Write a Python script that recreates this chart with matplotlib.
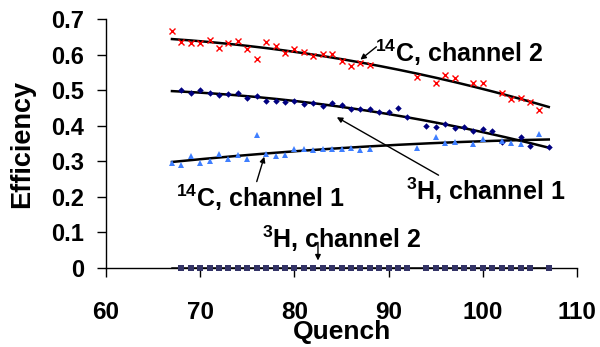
import matplotlib.pyplot as plt
import numpy as np

plt.rcParams['font.family'] = ['Liberation Sans', 'DejaVu Sans']
plt.rcParams['font.weight'] = 'bold'
plt.rcParams['mathtext.fontset'] = 'custom'
plt.rcParams['mathtext.rm'] = 'Liberation Sans:bold'
plt.rcParams['mathtext.default'] = 'rm'

# 14C, channel 2 (red crosses)
quench_c14_ch2 = [67, 68, 69, 70, 71, 72, 73, 74, 75, 76, 77, 78, 79, 80, 81, 82, 83, 84, 85, 86, 87, 88,
                  93, 95, 96, 97, 99, 100, 102, 103, 104, 105, 106]
eff_c14_ch2 = [0.667, 0.636, 0.634, 0.632, 0.640, 0.619, 0.634, 0.639, 0.617, 0.588, 0.636, 0.623,
               0.604, 0.617, 0.608, 0.597, 0.602, 0.602, 0.583, 0.569, 0.577, 0.572,
               0.537, 0.520, 0.543, 0.534, 0.520, 0.520, 0.491, 0.476, 0.479, 0.467, 0.444]

# 3H, channel 1 (navy diamonds)
quench_h3_ch1 = [68, 69, 70, 71, 72, 73, 74, 75, 76, 77, 78, 79, 80, 81, 82, 83, 84, 85, 86, 87, 88, 89, 90, 91, 92,
                 94, 95, 96, 97, 98, 99, 100, 101, 102, 104, 105, 107]
eff_h3_ch1 = [0.500, 0.491, 0.500, 0.491, 0.487, 0.489, 0.493, 0.477, 0.484, 0.469, 0.471, 0.466, 0.469,
              0.462, 0.463, 0.455, 0.465, 0.459, 0.447, 0.446, 0.447, 0.439, 0.438, 0.449, 0.424,
              0.399, 0.396, 0.406, 0.393, 0.396, 0.385, 0.391, 0.385, 0.355, 0.368, 0.344, 0.340]

# 14C, channel 1 (blue triangles)
quench_c14_ch1 = [67, 68, 69, 70, 71, 72, 73, 74, 75, 76, 77, 78, 79, 80, 81, 82, 83, 84, 85, 86, 87, 88,
                  93, 95, 96, 97, 99, 100, 102, 103, 104, 106]
eff_c14_ch1 = [0.294, 0.290, 0.315, 0.296, 0.301, 0.320, 0.306, 0.318, 0.307, 0.373, 0.320, 0.316,
               0.317, 0.334, 0.334, 0.333, 0.335, 0.335, 0.334, 0.337, 0.332, 0.335,
               0.337, 0.369, 0.352, 0.354, 0.348, 0.363, 0.358, 0.352, 0.349, 0.377]

# 3H, channel 2 (squares on the baseline)
quench_h3_ch2 = [68, 69, 70, 71, 72, 73, 74, 75, 76, 77, 78, 79, 80, 81, 82, 83, 84, 85, 86, 87, 88, 89, 90, 91, 92,
                 94, 95, 96, 97, 98, 99, 100, 101, 102, 103, 104, 105, 107]
eff_h3_ch2 = [0.0] * len(quench_h3_ch2)

x_ticks = [60, 70, 80, 90, 100, 110]
y_ticks = [0, 0.1, 0.2, 0.3, 0.4, 0.5, 0.6, 0.7]
y_tick_labels = ['0', '0.1', '0.2', '0.3', '0.4', '0.5', '0.6', '0.7']

fig = plt.figure(figsize=(6, 3.47), dpi=100)
ax = fig.add_axes([0.1767, 0.2277, 0.785, 0.7173])

series = [
    (quench_c14_ch2, eff_c14_ch2, dict(marker='x', color='#ff0000', ms=4.5, mew=1.0)),
    (quench_h3_ch1, eff_h3_ch1, dict(marker='D', color='#000080', ms=3.3, mew=0)),
    (quench_c14_ch1, eff_c14_ch1, dict(marker='^', color='#3f7fff', ms=5, mew=0)),
    (quench_h3_ch2, eff_h3_ch2, dict(marker='s', color='#333366', ms=3.8, mew=0)),
]

# 2nd order polynomial trend over the full quench range
x_fit = np.linspace(67, 107, 200)
for q, e, style in series:
    coeffs = np.polyfit(q, e, 2)
    ax.plot(x_fit, np.polyval(coeffs, x_fit), color='black', lw=1.8, zorder=3)
    ax.plot(q, e, linestyle='none', **style, zorder=6, clip_on=False)

ax.set_xlim(60, 110)
ax.set_ylim(0, 0.7)
ax.set_xticks(x_ticks)
ax.set_xticklabels([str(t) for t in x_ticks], fontweight='bold')
ax.set_yticks(y_ticks)
ax.set_yticklabels(y_tick_labels, fontweight='bold')
ax.tick_params(axis='x', labelsize=17.5, length=6.5, width=1, pad=17, direction='out')
ax.tick_params(axis='y', labelsize=17, length=6.5, width=1, pad=9, direction='out')
for s in ['top', 'right']:
    ax.spines[s].set_visible(False)
for s in ['left', 'bottom']:
    ax.spines[s].set_linewidth(1)
    ax.spines[s].set_zorder(5)

ax.set_xlabel('Quench', fontsize=19, fontweight='bold')
ax.set_ylabel('Efficiency', fontsize=19.5, fontweight='bold')
ax.xaxis.set_label_coords(0.5, -0.208)
ax.yaxis.set_label_coords(-0.15, 0.5)

# labels and pointer arrows
arrow = dict(arrowstyle='-|>', color='black', lw=1, mutation_scale=8, shrinkA=0, shrinkB=0)
labels = [
    ('$^{14}$C, channel 2', (88.6, 0.578), (87.0, 0.586), (88.7, 0.622)),
    ('$^{3}$H, channel 1', (91.8, 0.192), (84.5, 0.424), (95.3, 0.261)),
    ('$^{14}$C, channel 1', (67.4, 0.172), (76.8, 0.313), (76.0, 0.243)),
    ('$^{3}$H, channel 2', (76.6, 0.056), (82.5, 0.021), (82.5, 0.072)),
]
for text, pos, head, tail in labels:
    ax.text(pos[0], pos[1], text, fontsize=18, fontweight='bold', ha='left', va='baseline', zorder=7)
    ax.annotate('', xy=head, xytext=tail, arrowprops=arrow, zorder=7)

fig.savefig('out.png', dpi=100)
